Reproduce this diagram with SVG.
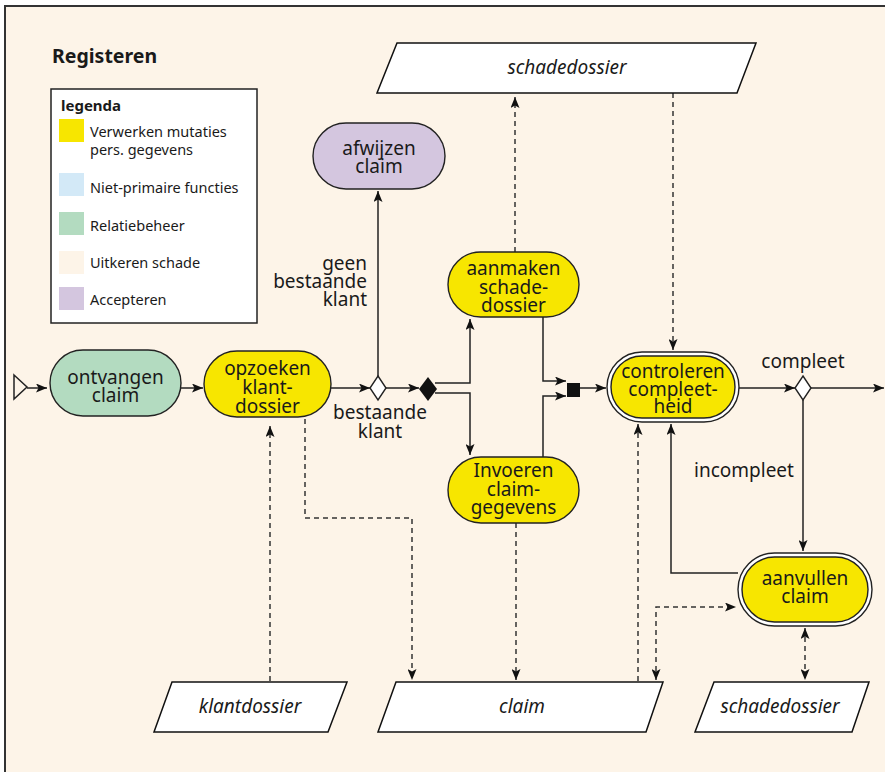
<svg xmlns="http://www.w3.org/2000/svg" width="885" height="772" viewBox="0 0 885 772">
<style>
text{font-family:"Noto Sans","Liberation Sans",sans-serif;fill:#1a1a1a}
.n{font-size:19px;text-anchor:middle}
.l{font-size:19px}
.lg{font-size:14.5px}
.it{font-size:19px;font-style:italic;text-anchor:middle}
.pill{stroke:#222;stroke-width:1.4}
.ds{fill:#fff;stroke:#111;stroke-width:1.5}
.c{fill:none;stroke:#222;stroke-width:1.5}
.d{fill:none;stroke:#333;stroke-width:1.5;stroke-dasharray:5,4}
</style>
<defs>
<marker id="a" viewBox="0 0 11 9" refX="11" refY="4.5" markerWidth="11" markerHeight="9" markerUnits="userSpaceOnUse" orient="auto-start-reverse">
<path d="M0,0 L11,4.5 L0,9 L2.5,4.5 z" fill="#111"/>
</marker>
</defs>
<rect x="0" y="0" width="885" height="772" fill="#fff"/>
<rect x="5" y="6" width="900" height="800" fill="#fdf4e8" stroke="#333" stroke-width="2"/>
<text x="52" y="63" style="font-size:19.5px;font-weight:bold">Registeren</text>
<g id="legend">
<rect x="51" y="89" width="206" height="234" fill="#fff" stroke="#222" stroke-width="1.5"/>
<text x="61" y="111" style="font-size:15px;font-weight:bold">legenda</text>
<rect x="59" y="119" width="25" height="23" fill="#f7e600"/>
<text class="lg" x="90" y="137">Verwerken mutaties</text>
<text class="lg" x="90" y="155">pers. gegevens</text>
<rect x="59" y="173" width="25" height="23" fill="#d3e9f7"/>
<text class="lg" x="90" y="193">Niet-primaire functies</text>
<rect x="59" y="212" width="25" height="23" fill="#b3dbc0"/>
<text class="lg" x="90" y="231">Relatiebeheer</text>
<rect x="59" y="251" width="25" height="23" fill="#fdf4e8"/>
<text class="lg" x="90" y="268">Uitkeren schade</text>
<rect x="59" y="287" width="25" height="23" fill="#d4c6df"/>
<text class="lg" x="90" y="305">Accepteren</text>
</g>
<g id="connectors">
<path class="c" d="M27,388 H47" marker-end="url(#a)"/>
<path class="c" d="M181,388 H203" marker-end="url(#a)"/>
<path class="c" d="M331,388 H370" marker-end="url(#a)"/>
<path class="c" d="M378,376 V191" marker-end="url(#a)"/>
<path class="c" d="M386,388 H419" marker-end="url(#a)"/>
<path class="c" d="M435,383 H470 V319" marker-end="url(#a)"/>
<path class="c" d="M435,393 H470 V455" marker-end="url(#a)"/>
<path class="c" d="M543,317 V381 H566" marker-end="url(#a)"/>
<path class="c" d="M543,457 V396 H566" marker-end="url(#a)"/>
<path class="c" d="M580,388 H606" marker-end="url(#a)"/>
<path class="c" d="M739,388 H795" marker-end="url(#a)"/>
<path class="c" d="M811,388 H884" marker-end="url(#a)"/>
<path class="c" d="M803,400 V551" marker-end="url(#a)"/>
<path class="c" d="M738,573 H671 V424" marker-end="url(#a)"/>
<path class="d" d="M515,252 V97" marker-end="url(#a)"/>
<path class="d" d="M673,93 V350" marker-end="url(#a)"/>
<path class="d" d="M270,681 V426" marker-end="url(#a)"/>
<path class="d" d="M305,419 V518 H412 V680" marker-end="url(#a)"/>
<path class="d" d="M516,523 V680" marker-end="url(#a)"/>
<path class="d" d="M638,681 V424" marker-end="url(#a)"/>
<path class="d" d="M656,680 V607 H736" marker-start="url(#a)" marker-end="url(#a)"/>
<path class="d" d="M805,628 V680" marker-start="url(#a)" marker-end="url(#a)"/>
</g>
<g id="start"><polygon points="14,375 27,387 14,399" fill="#fdf4e8" stroke="#222" stroke-width="1.5"/></g>
<g id="ontvangen-claim">
<rect class="pill" x="50" y="350" width="131" height="66" rx="33" fill="#b3dbc0"/>
<text class="n" x="115.5" y="384">ontvangen</text>
<text class="n" x="115.5" y="402">claim</text>
</g>
<g id="opzoeken-klantdossier">
<rect class="pill" x="204" y="351" width="127" height="66" rx="33" fill="#f7e600"/>
<text class="n" x="267.5" y="375">opzoeken</text>
<text class="n" x="267.5" y="394">klant-</text>
<text class="n" x="267.5" y="413">dossier</text>
</g>
<g id="afwijzen-claim">
<rect class="pill" x="313" y="123" width="132" height="66" rx="33" fill="#d4c6df"/>
<text class="n" x="379" y="155">afwijzen</text>
<text class="n" x="379" y="173">claim</text>
</g>
<g id="aanmaken-schadedossier">
<rect class="pill" x="448" y="252" width="131" height="65" rx="32.5" fill="#f7e600"/>
<text class="n" x="513.5" y="275">aanmaken</text>
<text class="n" x="513.5" y="293.5">schade-</text>
<text class="n" x="513.5" y="312">dossier</text>
</g>
<g id="invoeren-claimgegevens">
<rect class="pill" x="448" y="457" width="131" height="66" rx="33" fill="#f7e600"/>
<text class="n" x="513.5" y="477">Invoeren</text>
<text class="n" x="513.5" y="496">claim-</text>
<text class="n" x="513.5" y="514">gegevens</text>
</g>
<g id="controleren-compleetheid">
<rect x="607" y="352" width="132" height="70" rx="35" fill="#fff" stroke="#222" stroke-width="1.4"/>
<rect x="611" y="356" width="124" height="62" rx="31" fill="#f7e600" stroke="#222" stroke-width="1.4"/>
<text class="n" x="673" y="378">controleren</text>
<text class="n" x="673" y="396">compleet-</text>
<text class="n" x="673" y="413">heid</text>
</g>
<g id="aanvullen-claim">
<rect x="738" y="553" width="134" height="73" rx="36.5" fill="#fff" stroke="#222" stroke-width="1.4"/>
<rect x="742" y="557" width="126" height="65" rx="32.5" fill="#f7e600" stroke="#222" stroke-width="1.4"/>
<text class="n" x="805" y="585">aanvullen</text>
<text class="n" x="805" y="603">claim</text>
</g>
<g id="decision-klant">
<polygon points="378,376 386,388 378,400 370,388" fill="#fff" stroke="#222" stroke-width="1.4"/>
<text class="l" x="367" y="270" text-anchor="end">geen</text>
<text class="l" x="367" y="288" text-anchor="end">bestaande</text>
<text class="l" x="367" y="306" text-anchor="end">klant</text>
<text class="l" x="380" y="419" text-anchor="middle">bestaande</text>
<text class="l" x="380" y="438" text-anchor="middle">klant</text>
</g>
<g id="fork"><polygon points="428,377 437,389 428,401 419,389" fill="#111"/></g>
<g id="join"><rect x="567" y="383" width="13" height="14" fill="#111"/></g>
<g id="decision-compleet">
<polygon points="803,376 811,388 803,400 795,388" fill="#fff" stroke="#222" stroke-width="1.4"/>
<text class="l" x="803" y="368" text-anchor="middle">compleet</text>
<text class="l" x="744" y="477" text-anchor="middle">incompleet</text>
</g>
<g id="schadedossier-top">
<polygon class="ds" points="397,43 756,43 737,93 377,93"/>
<text class="it" x="567" y="74">schadedossier</text>
</g>
<g id="klantdossier">
<polygon class="ds" points="172,682 347,682 328,732 154,732"/>
<text class="it" x="250" y="713">klantdossier</text>
</g>
<g id="claim">
<polygon class="ds" points="396,682 663,682 646,732 378,732"/>
<text class="it" x="522" y="713">claim</text>
</g>
<g id="schadedossier-bottom">
<polygon class="ds" points="714,682 869,682 852,732 695,732"/>
<text class="it" x="780" y="713">schadedossier</text>
</g>
</svg>
